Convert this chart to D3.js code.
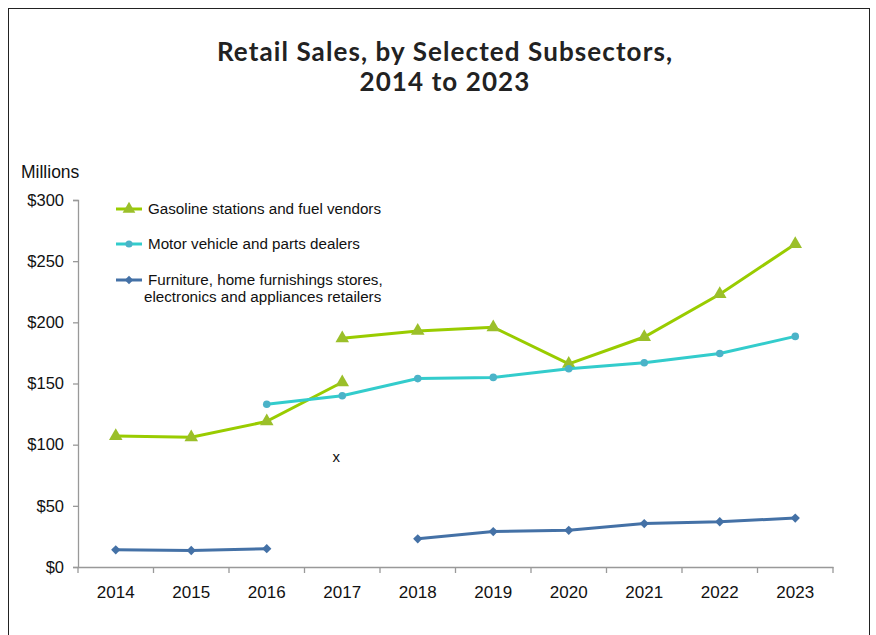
<!DOCTYPE html>
<html><head><meta charset="utf-8">
<script src="https://cdn.jsdelivr.net/npm/d3@7"></script>
<style>body{margin:0;background:#fff}svg{display:block}</style>
</head><body>
<svg id="c" width="876" height="635"></svg>
<script>
const years = ["2014","2015","2016","2017","2018","2019","2020","2021","2022","2023"];
const gasolineBefore = [107, 106, 119, 151, null, null, null, null, null, null];
const gasolineAfter  = [null, null, null, 187, 193, 196, 166, 188, 223, 264];
const motorVehicle   = [null, null, 133, 140, 154, 155, 162, 167, 174.5, 188.5];
const furniture      = [14, 13.5, 15, null, 23, 29, 30, 35.5, 37, 40];
const yTicks = [0, 50, 100, 150, 200, 250, 300];
const titleLines = ["Retail Sales, by Selected Subsectors,", "2014 to 2023"];
const legendLabels = ["Gasoline stations and fuel vendors", "Motor vehicle and parts dealers",
  ["Furniture, home furnishings stores,", "electronics and appliances retailers"]];

const svg = d3.select("#c");
svg.append("rect").attr("x",8.5).attr("y",8.5).attr("width",861).attr("height",640)
  .attr("fill","none").attr("stroke","#222").attr("stroke-width",1);

const titleFont = "Lato, Open Sans, sans-serif";
svg.append("text").attr("x",445).attr("y",61).attr("text-anchor","middle")
  .attr("font-family",titleFont).attr("font-weight","bold").attr("letter-spacing",1.1)
  .attr("font-size",26).attr("fill","#222").text(titleLines[0]);
svg.append("text").attr("x",445).attr("y",91).attr("text-anchor","middle")
  .attr("font-family",titleFont).attr("font-weight","bold").attr("letter-spacing",1.1)
  .attr("font-size",26).attr("fill","#222").text(titleLines[1]);

const x = d3.scaleBand().domain(years).range([78, 833]);
const y = d3.scaleLinear().domain([0, 300]).range([567, 200]);
const font = "Liberation Sans, Arial, sans-serif";

svg.append("text").attr("x",21).attr("y",178).attr("font-family",font).attr("font-size",17.5)
  .attr("fill","#111").text("Millions");

const yAxis = svg.append("g").attr("transform","translate(78,0)")
  .call(d3.axisLeft(y).tickValues(yTicks).tickFormat(d=>"$"+d).tickSizeOuter(0).tickSize(5));
yAxis.select(".domain").attr("stroke","#999").attr("stroke-width",1.3);
yAxis.selectAll(".tick line").attr("stroke","#999").attr("stroke-width",1.3);
yAxis.selectAll("text").attr("font-family",font).attr("font-size",16.5).attr("fill","#111").attr("x",-14);

const xAxis = svg.append("g").attr("transform","translate(0,567)")
  .call(d3.axisBottom(x).tickSize(0));
xAxis.select(".domain").attr("stroke","#999").attr("stroke-width",1.3);
xAxis.selectAll("text").attr("font-family",font).attr("font-size",17).attr("fill","#111").attr("y",14).attr("dy","1em");
const bounds = years.map(d=>x(d)).concat([x.range()[1]]);
xAxis.selectAll(".btick").data(bounds).join("line").attr("class","btick")
  .attr("x1",d=>d).attr("x2",d=>d).attr("y1",0).attr("y2",6).attr("stroke","#999").attr("stroke-width",1.3);

const cx = d => x(d) + x.bandwidth()/2;
const line = d3.line().defined(d=>d.v!=null).x(d=>cx(d.year)).y(d=>y(d.v));
const series = [
  {vals: gasolineBefore, line:"#99cc00", mark:"#9bbf2a", sym:d3.symbolTriangle, size:80},
  {vals: gasolineAfter,  line:"#99cc00", mark:"#9bbf2a", sym:d3.symbolTriangle, size:80},
  {vals: motorVehicle,   line:"#33cccc", mark:"#4bb3c8", sym:d3.symbolCircle, size:45},
  {vals: furniture,      line:"#4471a6", mark:"#4471a6", sym:d3.symbolDiamond2, size:55}
];
series.forEach(s=>{
  const data = years.map((yr,i)=>({year:yr, v:s.vals[i]}));
  svg.append("path").datum(data).attr("d",line).attr("fill","none")
    .attr("stroke",s.line).attr("stroke-width",3);
  svg.append("g").selectAll("path").data(data.filter(d=>d.v!=null)).join("path")
    .attr("d",d3.symbol().type(s.sym).size(s.size))
    .attr("transform",d=>`translate(${cx(d.year)},${y(d.v)})`).attr("fill",s.mark);
});

svg.append("text").attr("x",cx("2017")-6).attr("y",462).attr("text-anchor","middle")
  .attr("font-family",font).attr("font-size",15).attr("fill","#111").text("x");

// legend
const leg = [
  {y:209, line:"#99cc00", mark:"#9bbf2a", sym:d3.symbolTriangle, size:70},
  {y:244, line:"#33cccc", mark:"#4bb3c8", sym:d3.symbolCircle, size:40},
  {y:280, line:"#4471a6", mark:"#4471a6", sym:d3.symbolDiamond2, size:45}
];
leg.forEach((l,i)=>{
  svg.append("line").attr("x1",116).attr("x2",142).attr("y1",l.y).attr("y2",l.y)
    .attr("stroke",l.line).attr("stroke-width",3);
  svg.append("path").attr("d",d3.symbol().type(l.sym).size(l.size)())
    .attr("transform",`translate(129,${l.y})`).attr("fill",l.mark);
  const lab = legendLabels[i];
  if (Array.isArray(lab)) {
    svg.append("text").attr("x",148).attr("y",l.y+5).attr("font-family",font).attr("font-size",15.2)
      .attr("fill","#111").text(lab[0]);
    svg.append("text").attr("x",144).attr("y",l.y+22).attr("font-family",font).attr("font-size",15.2)
      .attr("fill","#111").text(lab[1]);
  } else {
    svg.append("text").attr("x",148).attr("y",l.y+5).attr("font-family",font).attr("font-size",15.2)
      .attr("fill","#111").text(lab);
  }
});
</script>
</body></html>
